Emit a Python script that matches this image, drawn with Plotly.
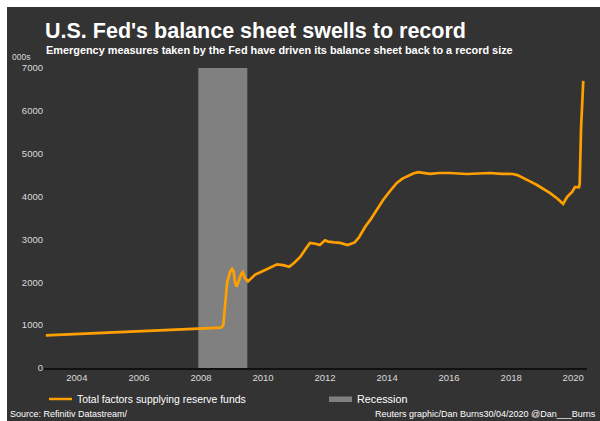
import plotly.graph_objects as go

# ---- data ----
dates = [
    "2003-01-01", "2003-07-01", "2004-01-01", "2004-07-01", "2005-01-01", "2005-07-01",
    "2006-01-01", "2006-07-01", "2007-01-01", "2007-07-01", "2007-12-01", "2008-04-01",
    "2008-08-25", "2008-09-20", "2008-10-10", "2008-11-05", "2008-12-10", "2009-01-01",
    "2009-01-20", "2009-02-05", "2009-02-25", "2009-03-20", "2009-04-20", "2009-05-08",
    "2009-06-01", "2009-07-08", "2009-08-08", "2009-10-01", "2009-11-25", "2010-02-05",
    "2010-04-20", "2010-06-15", "2010-08-25", "2010-11-05", "2011-01-01", "2011-03-15",
    "2011-05-25", "2011-07-08", "2011-09-10", "2011-11-01", "2012-01-01", "2012-02-05",
    "2012-04-20", "2012-06-25", "2012-09-25", "2012-12-15", "2013-02-05", "2013-04-20",
    "2013-06-15", "2013-08-25", "2013-11-15", "2014-02-05", "2014-04-25", "2014-07-01",
    "2014-08-25", "2014-11-05", "2015-01-01", "2015-05-20", "2015-09-10", "2016-01-10",
    "2016-07-30", "2017-01-01", "2017-04-25", "2017-09-10", "2018-01-20", "2018-03-15",
    "2018-05-20", "2018-08-05", "2018-11-01", "2019-01-20", "2019-04-05", "2019-07-01",
    "2019-09-05", "2019-09-20", "2019-10-20", "2019-11-25", "2019-12-20", "2020-01-22",
    "2020-03-10", "2020-03-18", "2020-03-25", "2020-04-03", "2020-04-15", "2020-04-25",
    "2020-04-29",
]
reserve_funds = [
    760, 775, 790, 805, 820, 835,
    850, 870, 885, 900, 920, 930,
    940, 1000, 1500, 2000, 2250, 2310,
    2250, 2000, 1900, 2050, 2200, 2240,
    2100, 2020, 2080, 2180, 2230, 2300,
    2380, 2420, 2400, 2360, 2450, 2590,
    2800, 2920, 2900, 2870, 2980, 2950,
    2930, 2920, 2870, 2930, 3050, 3300,
    3450, 3680, 3920, 4130, 4320, 4420,
    4480, 4540, 4570, 4530, 4550, 4550,
    4527, 4540, 4550, 4530, 4527, 4500,
    4440, 4360, 4270, 4180, 4080, 3950,
    3830, 3880, 3990, 4060, 4110, 4220,
    4220, 4300, 5000, 5600, 6100, 6650,
    6700,
]
recession_start = "2007-12-01"
recession_end = "2009-06-30"
y_max = 7000
x_ticks = ["2004-01-01", "2006-01-01", "2008-01-01", "2010-01-01", "2012-01-01",
           "2014-01-01", "2016-01-01", "2018-01-01", "2020-01-01"]
x_tick_labels = ["2004", "2006", "2008", "2010", "2012", "2014", "2016", "2018", "2020"]
y_ticks = [0, 1000, 2000, 3000, 4000, 5000, 6000, 7000]

# ---- styling ----
BG = "#333333"
ORANGE = "#FFA000"
GREY = "#808080"
TXT = "#DADADA"
FONT = "Liberation Sans, Arial"

W, H = 600, 421
L, R, T, B = 44, 13, 68, 53
PW, PH = W - L - R, H - T - B


def px(x):
    return (x - L) / PW


def py(y):
    return (H - B - y) / PH


fig = go.Figure()
fig.add_trace(go.Scatter(
    x=dates, y=reserve_funds, mode="lines",
    line=dict(color=ORANGE, width=2.7), showlegend=False, hoverinfo="skip",
))

shapes = [
    # dark panel with white frame at top/left
    dict(type="rect", xref="paper", yref="paper", x0=px(7), x1=px(W + 5), y0=py(7), y1=py(H + 5),
         fillcolor=BG, line=dict(width=0), layer="below"),
    # recession band
    dict(type="rect", xref="x", yref="y", x0=recession_start, x1=recession_end, y0=0, y1=y_max,
         fillcolor=GREY, line=dict(width=0), layer="below"),
    # legend markers
    dict(type="line", xref="paper", yref="paper", x0=px(49), x1=px(72), y0=py(399), y1=py(399),
         line=dict(color=ORANGE, width=2.5)),
    dict(type="rect", xref="paper", yref="paper", x0=px(329), x1=px(352), y0=py(396.5), y1=py(402),
         fillcolor=GREY, line=dict(width=0)),
]

annotations = [
    dict(text="<b>U.S. Fed's balance sheet swells to record</b>", x=px(43), y=py(31),
         font=dict(size=21.5, color="white", family=FONT)),
    dict(text="<b>Emergency measures taken by the Fed have driven its balance sheet back to a record size</b>",
         x=px(44), y=py(50), font=dict(size=10.9, color="white", family=FONT)),
    dict(text="000s", x=px(10), y=py(57), font=dict(size=8.5, color=TXT, family=FONT)),
    dict(text="Total factors supplying reserve funds", x=px(75), y=py(399),
         font=dict(size=10.4, color="white", family=FONT)),
    dict(text="Recession", x=px(355), y=py(399), font=dict(size=10.8, color="white", family=FONT)),
    dict(text="Source: Refinitiv Datastream/", x=px(8), y=py(414),
         font=dict(size=9, color="white", family=FONT)),
    dict(text="Reuters graphic/Dan Burns30/04/2020 @Dan___Burns", x=px(598), y=py(414), xanchor="right",
         font=dict(size=9, color="white", family=FONT)),
]
for a in annotations:
    a.setdefault("xanchor", "left")
    a.update(xref="paper", yref="paper", yanchor="middle", showarrow=False)

fig.update_layout(
    width=W, height=H,
    margin=dict(l=L, r=R, t=T, b=B, pad=0),
    paper_bgcolor="white", plot_bgcolor="rgba(0,0,0,0)",
    shapes=shapes, annotations=annotations,
    showlegend=False,
    xaxis=dict(type="date", range=["2002-12-10", "2020-06-12"], tickvals=x_ticks, ticktext=x_tick_labels,
               showgrid=False, zeroline=False, showline=True, linecolor="#111111", linewidth=1.5,
               ticks="", ticklen=0, tickfont=dict(size=9.5, color=TXT, family=FONT)),
    yaxis=dict(range=[0, y_max], tickvals=y_ticks, showgrid=False, zeroline=False, showline=False,
               ticks="", tickfont=dict(size=9.5, color=TXT, family=FONT)),
)
fig.write_html("out.html")
